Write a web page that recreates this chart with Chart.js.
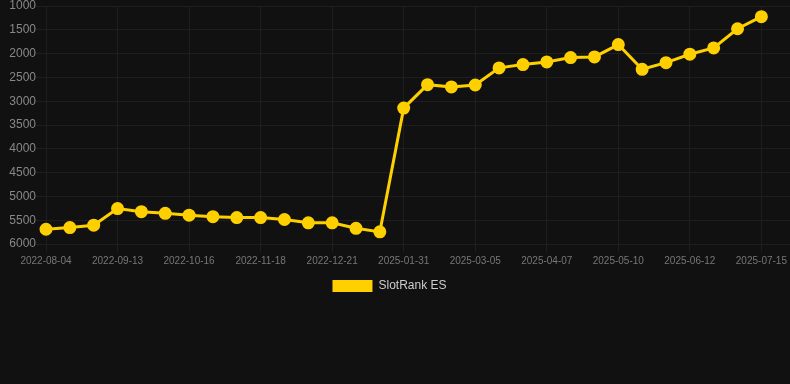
<!DOCTYPE html>
<html>
<head>
<meta charset="utf-8">
<script src="https://cdn.jsdelivr.net/npm/chart.js@4.4.1/dist/chart.umd.min.js"></script>
<style>
  html, body { margin: 0; padding: 0; background: #111111; }
  #wrap { position: relative; width: 790px; height: 302px; }
</style>
</head>
<body>
<div id="wrap"><canvas id="c"></canvas></div>
<script>
const categories = [
  "2022-08-04","2022-08-17","2022-08-30","2022-09-13","2022-09-24","2022-10-05",
  "2022-10-16","2022-10-27","2022-11-07","2022-11-18","2022-11-29","2022-12-10",
  "2022-12-21","2025-01-09","2025-01-20","2025-01-31","2025-02-11","2025-02-22",
  "2025-03-05","2025-03-16","2025-03-27","2025-04-07","2025-04-18","2025-04-29",
  "2025-05-10","2025-05-21","2025-06-01","2025-06-12","2025-06-23","2025-07-04",
  "2025-07-15"
];
const seriesName = "SlotRank ES";
const rankValues = [
  5690, 5655, 5605, 5255, 5320, 5355,
  5395, 5425, 5445, 5445, 5485, 5555,
  5555, 5670, 5745, 3145, 2652, 2700,
  2660, 2300, 2230, 2175, 2083, 2070,
  1810, 2330, 2190, 2013, 1880, 1478,
  1225
];
const yTicks = [1000,1500,2000,2500,3000,3500,4000,4500,5000,5500,6000];
const xTickEvery = 3;

const points = rankValues.map((v, i) => ({ x: i, y: v }));

const legendShift = {
  id: 'legendShift',
  afterLayout(chart) {
    if (chart.legend) { chart.legend.right -= 11; }
  }
};

new Chart(document.getElementById('c'), {
  type: 'line',
  data: {
    datasets: [{
      label: seriesName,
      data: points,
      borderColor: '#FFD000',
      backgroundColor: '#FFD000',
      pointBackgroundColor: '#FFD000',
      pointBorderColor: '#FFD000',
      pointRadius: 5,
      borderWidth: 3,
      tension: 0,
      clip: false
    }]
  },
  plugins: [legendShift],
  options: {
    responsive: true,
    maintainAspectRatio: false,
    animation: false,
    layout: { autoPadding: false },
    plugins: {
      legend: {
        position: 'bottom',
        labels: {
          color: '#cccccc',
          font: { family: 'Liberation Sans, Arial, sans-serif', size: 12 },
          boxWidth: 40,
          boxHeight: 12,
          generateLabels: function(chart) {
            const items = Chart.defaults.plugins.legend.labels.generateLabels(chart);
            items.forEach(it => { it.lineWidth = 0; it.strokeStyle = 'rgba(0,0,0,0)'; });
            return items;
          }
        }
      },
      tooltip: { enabled: false }
    },
    scales: {
      x: {
        type: 'linear',
        min: 0,
        max: 31.2,
        afterBuildTicks: function(axis) {
          const t = [];
          for (let i = 0; i < categories.length; i += xTickEvery) t.push({ value: i });
          axis.ticks = t;
        },
        grid: { color: '#1e1e1e', tickLength: 8 },
        border: { color: '#1e1e1e' },
        ticks: {
          color: '#777777',
          font: { family: 'Liberation Sans, Arial, sans-serif', size: 10 },
          autoSkip: false,
          maxRotation: 0,
          callback: function(v) { return categories[v]; }
        }
      },
      y: {
        reverse: true,
        min: 1000,
        max: 6000,
        afterBuildTicks: function(axis) { axis.ticks = yTicks.map(v => ({ value: v })); },
        afterFit: function(axis) { axis.width = 46; },
        grid: { color: '#1e1e1e', tickLength: 10 },
        border: { color: '#1e1e1e' },
        ticks: {
          color: '#888888',
          font: { family: 'Liberation Sans, Arial, sans-serif', size: 12, lineHeight: 1 },
          padding: 0,
          callback: function(v) { return String(v); }
        }
      }
    }
  }
});
</script>
</body>
</html>
